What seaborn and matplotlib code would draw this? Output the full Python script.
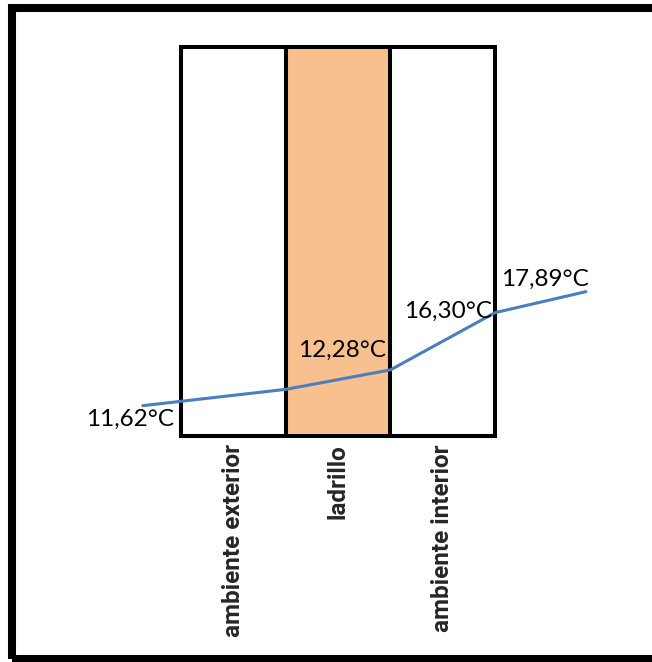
import numpy as np
import pandas as pd
import matplotlib
matplotlib.use('Agg')
import matplotlib.pyplot as plt
import seaborn as sns
from matplotlib.patches import Rectangle

sns.set_style('white')

# layers of the wall (drawn as full-height columns)
layers = ['ambiente exterior', 'ladrillo', 'ambiente interior']
layer_height = [100, 100, 100]
layer_colors = ['white', '#F8C08E', 'white']

# temperature profile through the wall (x in layer units, y in % of wall height)
profile_x = [-0.87, 0.5, 1.5, 2.5, 3.37]
profile_y = [7.8, 12.0, 17.0, 31.7, 37.1]
profile_labels = ['11,62°C', None, '12,28°C', '16,30°C', '17,89°C']
label_offsets = [(-13, -14), None, (-48, 20), (-47, 1), (-41, 12)]

fig = plt.figure(figsize=(6.52, 6.62), dpi=100)
ax = fig.add_axes([40 / 652, 226 / 662, 600 / 652, 389 / 662])

df = pd.DataFrame({'capa': layers, 'alto': layer_height})
sns.barplot(data=df, x='capa', y='alto', hue='capa', palette=layer_colors,
            width=1.0, edgecolor='black', linewidth=2.9, legend=False,
            saturation=1, ax=ax)
for p in ax.patches:
    p.set_clip_on(False)

sns.lineplot(x=profile_x, y=profile_y, sort=False, color='#4A7EBF',
             linewidth=2.2, ax=ax)
ax.lines[-1].set_clip_on(False)

for x, y, lab, off in zip(profile_x, profile_y, profile_labels, label_offsets):
    if lab is None:
        continue
    ax.annotate(lab, (x, y), xytext=off, textcoords='offset pixels',
                ha='center', va='center', fontsize=17.5,
                family=['Lato', 'DejaVu Sans'], color='black')

ax.set_xlim(-1.854, 3.888)
ax.set_ylim(0, 100)
ax.set_xlabel('')
ax.set_ylabel('')
ax.set_yticks([])
ax.tick_params(axis='x', length=0, pad=6)
for lab in ax.get_xticklabels():
    lab.set_rotation(90)
    lab.set_fontsize(17.5)
    lab.set_fontweight('bold')
    lab.set_family(['Roboto', 'DejaVu Sans'])
    lab.set_va('top')
    lab.set_ha('center')
for s in ax.spines.values():
    s.set_visible(False)
ax.patch.set_alpha(0)

# thick outer frame (right side runs off the image)
frame = Rectangle((12 / 652, 3.5 / 662), 700 / 652, (662 - 8 - 3.5) / 662,
                  transform=fig.transFigure, fill=False, edgecolor='black',
                  linewidth=5.8, clip_on=False)
fig.patches.append(frame)

fig.savefig('out.png', dpi=100)
